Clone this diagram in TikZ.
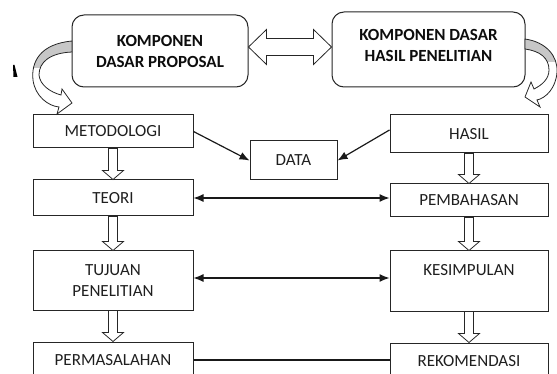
\documentclass[tikz,border=0pt]{standalone}
\usepackage{fontspec}
\setmainfont{Carlito}
\usetikzlibrary{arrows.meta,calc}
\newcommand\blockdown[2]{%
  \draw[blk] ([xshift=-4.5pt]#1.south) -- ([xshift=4.5pt]#1.south)
    -- ([xshift=4.5pt,yshift=9pt]#2.north) -- ([xshift=10.5pt,yshift=9pt]#2.north)
    -- (#2.north) -- ([xshift=-10.5pt,yshift=9pt]#2.north)
    -- ([xshift=-4.5pt,yshift=9pt]#2.north) -- cycle;}
\def\leftcurve{(72,41) .. controls (40,44) and (31,62) .. (33,80) .. controls (35,96) and (48,106) .. (59,107) -- (57,114) -- (72,103) -- (62,89) -- (61,95) .. controls (50,92) and (40,85) .. (39,75) .. controls (39,62) and (50,53) .. (72,52) -- cycle}
\def\rightcurve{(525,39) .. controls (546,42) and (558,56) .. (557,72) .. controls (556,88) and (546,98) .. (537,100) -- (540,107) -- (525,97) -- (531,82) -- (534,89) .. controls (542,85) and (549,79) .. (549,70) .. controls (549,58) and (540,51) .. (525,49) -- cycle}
\begin{document}
\begin{tikzpicture}[x=1pt,y=-1pt,
  box/.style={draw=black!85, line width=1pt, fill=white, inner sep=0pt,
    font=\fontsize{17}{21}\selectfont, text=black!88, align=center},
  rbox/.style={box, rounded corners=12pt, font=\bfseries\fontsize{17}{21}\selectfont, text=black!95},
  lbl/.style={inner sep=0pt, font=\fontsize{17}{21}\selectfont, text=black!88, align=center},
  blk/.style={draw=black!85, line width=0.8pt, fill=white},
  conn/.style={draw=black!90, line width=1.2pt, -{Latex[length=10pt,width=8pt]}},
  dconn/.style={draw=black!90, line width=1.2pt, {Latex[length=10pt,width=8pt]}-{Latex[length=10pt,width=8pt]}}]
\useasboundingbox (0,0) rectangle (557,374);
\clip (0,0) rectangle (557,374);
% top boxes
\node[rbox, minimum width=176pt, minimum height=72pt] (kdp) at (160,51) {KOMPONEN\\DASAR PROPOSAL};
\node[rbox, minimum width=193pt, minimum height=75pt] (kdh) at (428.5,49.5) {};
\node[lbl, font=\bfseries\fontsize{17}{21}\selectfont, text=black!95] (kdhtext) at (428.5,45) {KOMPONEN DASAR\\HASIL PENELITIAN};
% left column
\node[box, minimum width=160pt, minimum height=33pt] (met) at (113,131.5) {METODOLOGI};
\node[box, minimum width=160pt, minimum height=36pt] (teori) at (113,198) {TEORI};
\node[box, minimum width=160pt, minimum height=59pt] (tujuan) at (113,280.5) {TUJUAN\\PENELITIAN};
\node[box, minimum width=160pt, minimum height=36pt] (perm) at (113,360) {PERMASALAHAN};
% right column
\node[box, minimum width=158pt, minimum height=38pt] (hasil) at (469,134) {HASIL};
\node[box, minimum width=158pt, minimum height=33pt] (pemb) at (469,200.5) {PEMBAHASAN};
\node[box, minimum width=158pt, minimum height=60pt] (kesim) at (469,281) {};
\node[lbl] (kesimtext) at (469,270) {KESIMPULAN};
\node[box, minimum width=158pt, minimum height=36pt] (rekom) at (469,361) {REKOMENDASI};
% data
\node[box, minimum width=87pt, minimum height=39pt] (data) at (293.5,160.5) {DATA};
% double block arrow
\coordinate (dL) at ([yshift=4pt]kdp.east);
\coordinate (dR) at (dL -| kdh.west);
\draw[blk] (dL) -- ([xshift=18pt,yshift=17.5pt]dL) -- ([xshift=18pt,yshift=8.5pt]dL)
  -- ([xshift=-18pt,yshift=8.5pt]dR) -- ([xshift=-18pt,yshift=17.5pt]dR) -- (dR)
  -- ([xshift=-18pt,yshift=-17.5pt]dR) -- ([xshift=-18pt,yshift=-8.5pt]dR)
  -- ([xshift=18pt,yshift=-8.5pt]dL) -- ([xshift=18pt,yshift=-17.5pt]dL) -- cycle;
% curved arrows
\fill[white] \leftcurve;
\begin{scope}\clip (0,0) rectangle (80,68); \fill[black!22] \leftcurve; \end{scope}
\draw[draw=black!85, line width=0.8pt] \leftcurve;
\fill[white] \rightcurve;
\begin{scope}\clip (500,0) rectangle (557,62); \fill[black!22] \rightcurve; \end{scope}
\draw[draw=black!85, line width=0.8pt] \rightcurve;
% small mark
\fill[black] (13,65) -- (14.5,65) -- (17.5,77) -- (13.5,77) -- cycle;
% hollow down arrows
\blockdown{met}{teori}
\blockdown{teori}{tujuan}
\blockdown{tujuan}{perm}
\blockdown{hasil}{pemb}
\blockdown{pemb}{kesim}
\blockdown{kesim}{rekom}
% connectors
\draw[conn] (met.east) -- (data.west);
\draw[conn] ([yshift=4pt]hasil.west) -- (data.east);
\draw[dconn] (teori.east) -- (teori.east -| pemb.west);
\draw[dconn] ([yshift=2.5pt]tujuan.east) -- ([yshift=2.5pt]tujuan.east -| kesim.west);
\draw[draw=black!90, line width=1.2pt] (perm.east) -- (perm.east -| rekom.west);
\end{tikzpicture}
\end{document}
